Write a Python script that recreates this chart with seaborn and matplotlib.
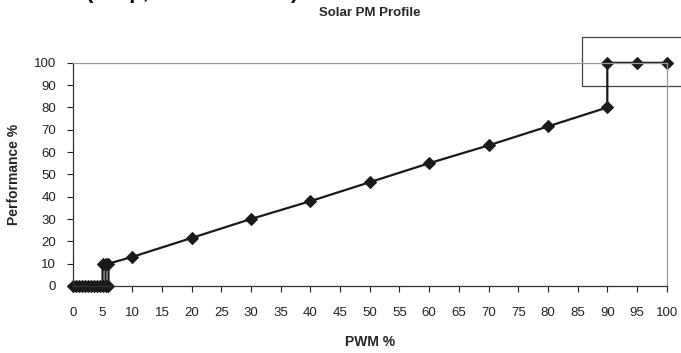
# Solar PM profile chart
import matplotlib
matplotlib.use('Agg')
import matplotlib.pyplot as plt
from matplotlib.patches import Rectangle
import seaborn as sns
import pandas as pd

# Data
pwm_low = [0, 0.5, 1, 1.5, 2, 2.5, 3, 3.5, 4, 4.5, 5]
perf_low = [0] * len(pwm_low)
pwm_step = [5, 5.5, 5.5, 6, 6]
perf_step = [10, 10, 0, 0, 10]
pwm_main = [10, 20, 30, 40, 50, 60, 70, 80, 90, 90, 95, 100]
perf_main = [13, 21.5, 30, 38, 46.5, 55, 63, 71.5, 80, 100, 100, 100]

x_ticks = list(range(0, 101, 5))
y_ticks = list(range(0, 101, 10))

df = pd.DataFrame({
    'PWM': pwm_low + pwm_step + pwm_main,
    'Performance': perf_low + perf_step + perf_main,
})

sns.set_style('ticks')
plt.rcParams['font.family'] = ['Liberation Sans', 'DejaVu Sans']

fig = plt.figure(figsize=(6.81, 3.53), dpi=100)
ax = fig.add_axes([0.107, 0.19, 0.872, 0.632])

sns.lineplot(x='PWM', y='Performance', data=df, sort=False, estimator=None,
             color='#1a1a1a', linewidth=1.6, marker='D', markersize=6.4,
             markeredgecolor='#1a1a1a', clip_on=False, ax=ax)

ax.set_xlim(0, 100)
ax.set_ylim(0, 100)
ax.set_xticks(x_ticks)
ax.set_yticks(y_ticks)
ax.tick_params(axis='x', direction='out', length=4, width=0.8, pad=11,
               labelsize=9.5, colors='#222222')
ax.tick_params(axis='y', direction='out', length=4, width=0.8, pad=8,
               labelsize=9.5, colors='#222222')

for s in ['left', 'bottom']:
    ax.spines[s].set_color('#333333')
    ax.spines[s].set_linewidth(0.9)
for s in ['top', 'right']:
    ax.spines[s].set_color('#9a9a9a')
    ax.spines[s].set_linewidth(0.9)

ax.set_xlabel('PWM %', fontsize=10, fontweight='bold', labelpad=12)
ax.set_ylabel('Performance %', fontsize=10, fontweight='bold', labelpad=9)
ax.set_title('Solar PM Profile', fontsize=9.5, fontweight='bold', pad=34)

# highlight box around the 100 % plateau
ax.add_patch(Rectangle((85.7, 89.6), 20, 22, fill=False, edgecolor='#444444',
                       linewidth=0.9, clip_on=False))

# cropped heading at the very top of the page (only descenders visible)
fig.text(0.127, 1.0 + 2 / 353, '(Amp, Performance)', fontsize=16,
         fontweight='bold', ha='left', va='baseline', color='#111111')

fig.savefig('out.png', dpi=100)
